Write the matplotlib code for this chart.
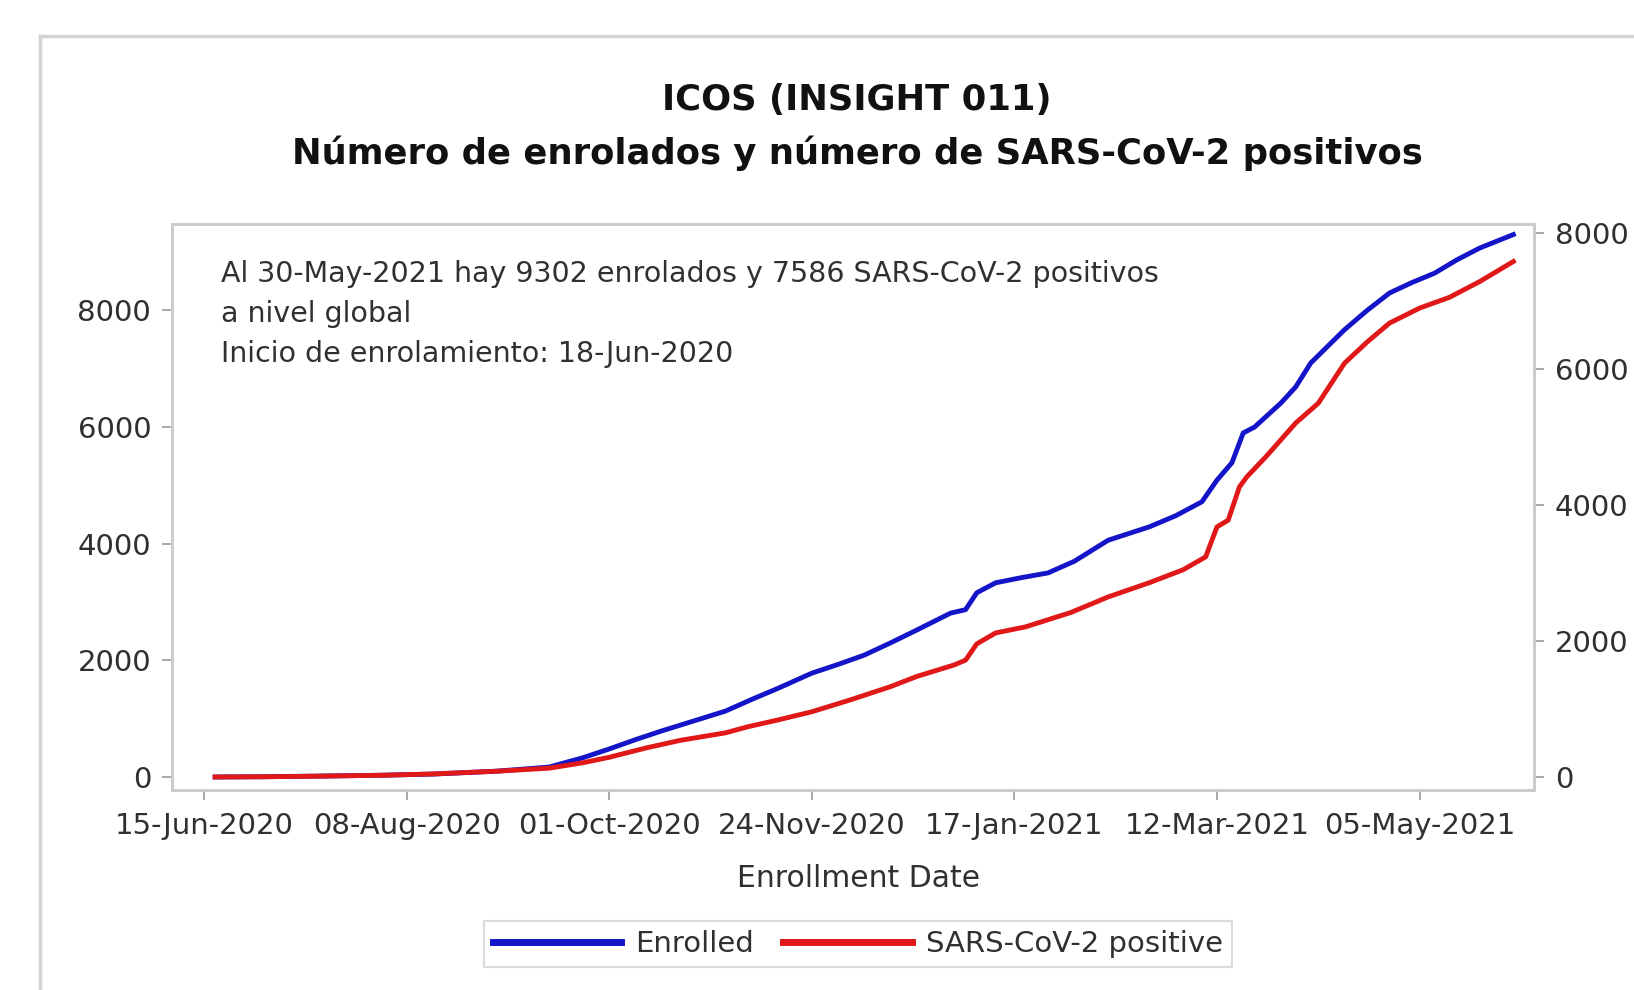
import numpy as np
import pandas as pd
import matplotlib
matplotlib.use('Agg')
import matplotlib.pyplot as plt
import matplotlib.dates as mdates
from matplotlib.lines import Line2D

# datos
fechas_enr = ['2020-06-18', '2020-07-01', '2020-07-15', '2020-08-01', '2020-08-15',
              '2020-09-01', '2020-09-15', '2020-09-24', '2020-10-01', '2020-10-08',
              '2020-10-15', '2020-10-22', '2020-11-01', '2020-11-08', '2020-11-15',
              '2020-11-24', '2020-12-01', '2020-12-08', '2020-12-15', '2020-12-22',
              '2020-12-31', '2021-01-04', '2021-01-07', '2021-01-12', '2021-01-19',
              '2021-01-26', '2021-02-02', '2021-02-11', '2021-02-22', '2021-03-01',
              '2021-03-08', '2021-03-12', '2021-03-16', '2021-03-19', '2021-03-22',
              '2021-03-29', '2021-04-02', '2021-04-06', '2021-04-15', '2021-04-21',
              '2021-04-27', '2021-05-03', '2021-05-09', '2021-05-15', '2021-05-21',
              '2021-05-30']
enrolados = [0, 5, 15, 30, 50,
             100, 170, 330, 480, 640,
             790, 930, 1130, 1330, 1520,
             1780, 1930, 2090, 2300, 2520,
             2810, 2870, 3160, 3330, 3420,
             3500, 3700, 4060, 4290, 4480,
             4720, 5090, 5390, 5900, 6000,
             6410, 6690, 7100, 7670, 8000,
             8300, 8480, 8640, 8870, 9070,
             9302]

fechas_pos = ['2020-06-18', '2020-07-01', '2020-07-15', '2020-08-01', '2020-08-15',
              '2020-09-01', '2020-09-15', '2020-09-24', '2020-10-01', '2020-10-11',
              '2020-10-20', '2020-11-01', '2020-11-07', '2020-11-15', '2020-11-24',
              '2020-12-04', '2020-12-15', '2020-12-22', '2021-01-01', '2021-01-04',
              '2021-01-07', '2021-01-12', '2021-01-20', '2021-02-01', '2021-02-11',
              '2021-02-22', '2021-03-03', '2021-03-09', '2021-03-12', '2021-03-15',
              '2021-03-18', '2021-03-20', '2021-03-25', '2021-04-02', '2021-04-08',
              '2021-04-15', '2021-04-21', '2021-04-27', '2021-05-05', '2021-05-13',
              '2021-05-21', '2021-05-30']
positivos = [0, 4, 12, 25, 45,
             85, 130, 210, 290, 430,
             540, 650, 740, 840, 960,
             1130, 1330, 1480, 1650, 1720,
             1960, 2120, 2210, 2420, 2650,
             2860, 3050, 3240, 3680, 3780,
             4270, 4420, 4710, 5210, 5500,
             6090, 6400, 6680, 6900, 7060,
             7290, 7586]

ticks_izq = [0, 2000, 4000, 6000, 8000]
ticks_der = [0, 2000, 4000, 6000, 8000]

xf = pd.to_datetime(fechas_enr)
xp = pd.to_datetime(fechas_pos)

W, H = 1634, 990
fig = plt.figure(figsize=(W / 100, H / 100), dpi=100)
fig.patch.set_facecolor('white')

# marco exterior gris
fig.add_artist(Line2D([40 / W, 1.0], [1 - 36 / H, 1 - 36 / H], color='#d4d4d4', lw=2.5))
fig.add_artist(Line2D([40 / W, 40 / W], [0, 1 - 36 / H], color='#d4d4d4', lw=2.5))

ax = fig.add_axes([172 / W, 1 - 790 / H, (1534 - 172) / W, (790 - 224) / H])
ax2 = ax.twinx()

l1, = ax.plot(xf, enrolados, color='#1414c8', lw=3.5, label='Enrolled')
l2, = ax2.plot(xp, positivos, color='#e01818', lw=3.5, label='SARS-CoV-2 positive')

ax.set_xlim(pd.Timestamp('2020-06-06 12:00'), pd.Timestamp('2021-06-04 12:00'))
ax.set_ylim(-223, 9483)
ax2.set_ylim(-191, 8138)
ax.set_yticks(ticks_izq)
ax2.set_yticks(ticks_der)

xt = pd.date_range('2020-06-15', periods=7, freq='54D')
ax.set_xticks(xt)
ax.xaxis.set_major_formatter(mdates.DateFormatter('%d-%b-%Y'))

for a in (ax, ax2):
    for s in a.spines.values():
        s.set_color('#cccccc')
        s.set_linewidth(2)
    a.tick_params(colors='#9a9a9a', labelcolor='#303030', length=7, width=1.2,
                  labelsize=21, pad=8)
ax.tick_params(axis='x', pad=9)

ax.set_xlabel('Enrollment Date', fontsize=21.5, color='#303030')
ax.xaxis.set_label_coords(0.504, -0.13)

# texto dentro del grafico
x0 = (221 - 172) / 1362
lineas = ['Al 30-May-2021 hay 9302 enrolados y 7586 SARS-CoV-2 positivos',
          'a nivel global',
          'Inicio de enrolamiento: 18-Jun-2020']
for i, t in enumerate(lineas):
    ax.text(x0, (790 - 274 - 40 * i) / 566, t, transform=ax.transAxes,
            fontsize=20.5, color='#303030', va='center', ha='left')

fig.text(857 / W, 1 - 100 / H, 'ICOS (INSIGHT 011)', ha='center', va='center',
         fontsize=25.5, fontweight='bold', color='#111111')
fig.text(857 / W, 1 - 153 / H, 'Número de enrolados y número de SARS-CoV-2 positivos',
         ha='center', va='center', fontsize=25.5, fontweight='bold', color='#111111')

leg = fig.legend(handles=[l1, l2], loc='center', bbox_to_anchor=(858 / W, 1 - 944 / H),
                 ncol=2, fontsize=21, frameon=True, fancybox=False, edgecolor='#d4d4d4',
                 handlelength=4.4, handletextpad=0.5, columnspacing=1.0,
                 borderpad=0.3)
leg.get_frame().set_linewidth(1.5)
for h in leg.legend_handles:
    h.set_linewidth(5)
for t in leg.get_texts():
    t.set_color('#303030')

fig.savefig('out.png', dpi=100)
